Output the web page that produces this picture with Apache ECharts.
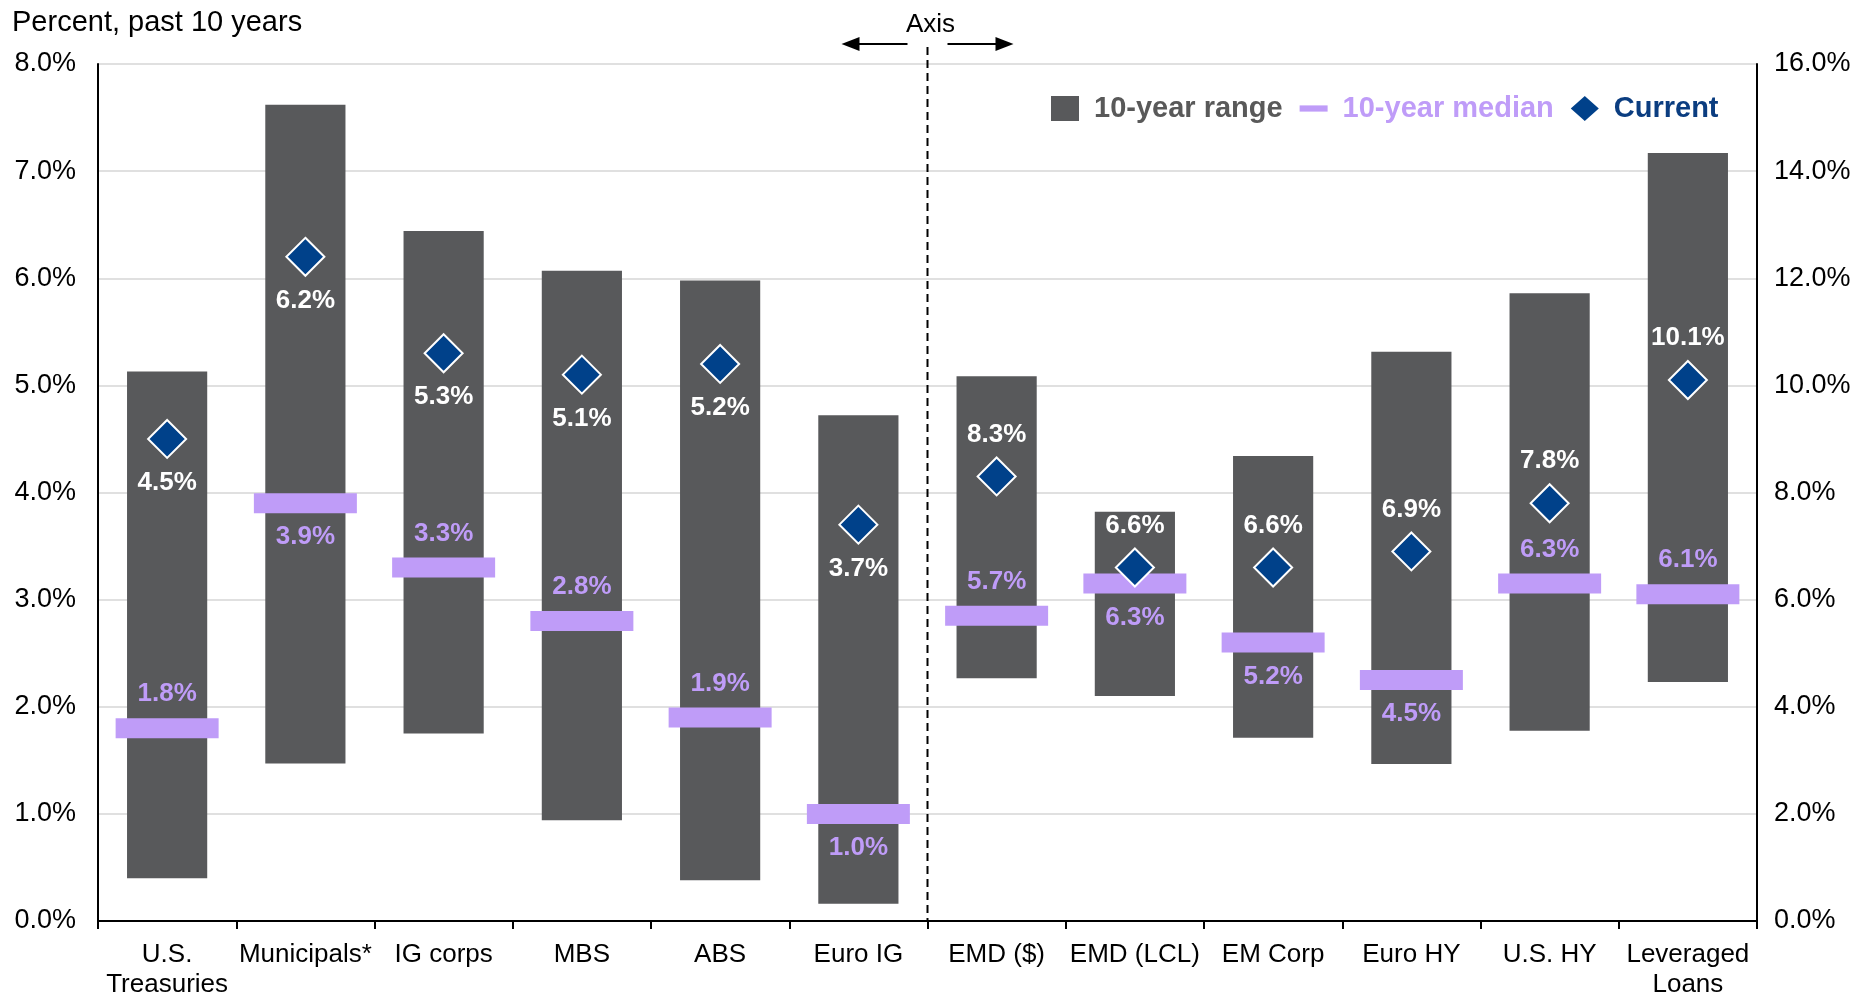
<!DOCTYPE html>
<html>
<head>
<meta charset="utf-8">
<script src="https://cdn.jsdelivr.net/npm/echarts@6/dist/echarts.min.js"></script>
<style>
  html, body { margin: 0; padding: 0; background: #fff; }
  #chart { width: 1858px; height: 994px; }
</style>
</head>
<body>
<div id="chart"></div>
<script>
// categories: first six read on the left axis, last six on the right axis
var categories = ['U.S.\nTreasuries', 'Municipals*', 'IG corps', 'MBS', 'ABS', 'Euro IG',
    'EMD ($)', 'EMD (LCL)', 'EM Corp', 'Euro HY', 'U.S. HY', 'Leveraged\nLoans'];
var rangeLow  = [0.40, 1.47, 1.75, 0.94, 0.38, 0.16, 4.53, 4.20, 3.42, 2.93, 3.55, 4.46];
var rangeHigh = [5.13, 7.62, 6.44, 6.07, 5.98, 4.72, 10.17, 7.64, 8.68, 10.63, 11.72, 14.34];
var median    = [1.8, 3.9, 3.3, 2.8, 1.9, 1.0, 5.7, 6.3, 5.2, 4.5, 6.3, 6.1];
var current   = [4.5, 6.2, 5.3, 5.1, 5.2, 3.7, 8.3, 6.6, 6.6, 6.9, 7.8, 10.1];
var splitAt = 6; // index of first right-axis category

// label placement (style only)
var medianLabelTop  = [true, false, true, true, true, false, true, false, false, false, true, true];
var currentLabelTop = [false, false, false, false, false, false, true, true, true, true, true, true];

var FONT = 'Liberation Sans';
var GREY = '#58595b';
var PURPLE = '#bf9cf8';
var NAVY = '#00418a';

function pick(side) {
    var idx = [];
    for (var i = 0; i < categories.length; i++) {
        if ((side === 0 && i < splitAt) || (side === 1 && i >= splitAt)) idx.push(i);
    }
    return idx;
}

function renderRange(params, api) {
    var top = api.coord([api.value(0), api.value(2)]);
    var bot = api.coord([api.value(0), api.value(1)]);
    var w = api.size([1, 0])[0] * 0.58;
    return {
        type: 'rect',
        shape: { x: top[0] - w / 2, y: top[1], width: w, height: bot[1] - top[1] },
        style: api.style()
    };
}

var series = [];
[0, 1].forEach(function (side) {
    var idx = pick(side);
    series.push({
        name: '10-year range',
        type: 'custom',
        yAxisIndex: side,
        renderItem: renderRange,
        encode: { x: 0, y: [1, 2] },
        itemStyle: { color: GREY },
        z: 1,
        data: idx.map(function (i) { return [i, rangeLow[i], rangeHigh[i]]; })
    });
    series.push({
        name: '10-year median',
        type: 'scatter',
        yAxisIndex: side,
        symbol: 'rect',
        symbolSize: [103, 20],
        itemStyle: { color: PURPLE, opacity: 1 },
        z: 3,
        data: idx.map(function (i) {
            return {
                value: [i, median[i]],
                label: { position: medianLabelTop[i] ? 'top' : 'bottom' }
            };
        }),
        label: {
            show: true,
            distance: 11,
            color: PURPLE,
            fontFamily: FONT,
            fontWeight: 'bold',
            fontSize: 26,
            formatter: function (p) { return p.value[1].toFixed(1) + '%'; }
        }
    });
    series.push({
        name: 'Current',
        type: 'scatter',
        yAxisIndex: side,
        symbol: 'diamond',
        symbolSize: [38, 38],
        itemStyle: { color: NAVY, borderColor: '#ffffff', borderWidth: 2, opacity: 1 },
        z: 4,
        data: idx.map(function (i) {
            return {
                value: [i, current[i]],
                label: { position: currentLabelTop[i] ? 'top' : 'bottom',
                         distance: currentLabelTop[i] ? 9 : 11 }
            };
        }),
        label: {
            show: true,
            color: '#ffffff',
            fontFamily: FONT,
            fontWeight: 'bold',
            fontSize: 26,
            formatter: function (p) { return p.value[1].toFixed(1) + '%'; }
        }
    });
});

var chart = echarts.init(document.getElementById('chart'));
chart.setOption({
    animation: false,
    backgroundColor: '#ffffff',
    textStyle: { fontFamily: FONT },
    title: {
        text: 'Percent, past 10 years',
        left: 7,
        top: 3,
        textStyle: { fontFamily: FONT, fontSize: 29, fontWeight: 'normal', color: '#000' }
    },
    legend: {
        left: 1046,
        top: 89,
        itemWidth: 28,
        itemHeight: 25,
        itemGap: 17,
        selectedMode: false,
        data: [
            { name: '10-year range', icon: 'rect',
              textStyle: { color: '#595959' } },
            { name: '10-year median', icon: 'path://M0,0H27V6H0Z',
              textStyle: { color: PURPLE } },
            { name: 'Current', icon: 'diamond',
              itemStyle: { borderWidth: 0 },
              textStyle: { color: '#0b3d80' } }
        ],
        textStyle: { fontFamily: FONT, fontSize: 29, fontWeight: 'bold', padding: [0, 0, 0, 10] }
    },
    grid: { left: 98, right: 101, top: 64, bottom: 73, containLabel: false, outerBoundsMode: 'none' },
    xAxis: {
        type: 'category',
        data: categories,
        boundaryGap: true,
        axisLine: { lineStyle: { color: '#000', width: 2 } },
        axisTick: { show: true, interval: 0, length: 8, lineStyle: { color: '#000', width: 2 } },
        axisLabel: { interval: 0, color: '#000', fontSize: 26, lineHeight: 30, margin: 19, fontFamily: FONT },
        splitLine: { show: false }
    },
    yAxis: [{
        type: 'value',
        min: 0, max: 8, interval: 1,
        axisLine: { show: true, lineStyle: { color: '#000', width: 2 } },
        axisTick: { show: false },
        axisLabel: { color: '#000', fontSize: 27, margin: 22, fontFamily: FONT,
            formatter: function (v) { return v.toFixed(1) + '%'; } },
        splitLine: { show: true, lineStyle: { color: '#e0e0e0', width: 2 } }
    }, {
        type: 'value',
        min: 0, max: 16, interval: 2,
        position: 'right',
        axisLine: { show: true, lineStyle: { color: '#000', width: 2 } },
        axisTick: { show: false },
        axisLabel: { color: '#000', fontSize: 27, margin: 17, fontFamily: FONT,
            formatter: function (v) { return v.toFixed(1) + '%'; } },
        splitLine: { show: false }
    }],
    series: series
});

// dashed divider between the two axis groups, with the "Axis" note above it
var bx = (chart.convertToPixel({ xAxisIndex: 0 }, splitAt - 1) +
          chart.convertToPixel({ xAxisIndex: 0 }, splitAt)) / 2;
var by = chart.convertToPixel({ yAxisIndex: 0 }, 0);
chart.setOption({
    graphic: [
        { type: 'line', shape: { x1: bx, y1: 47, x2: bx, y2: by },
          style: { stroke: '#000', lineWidth: 2, lineDash: [8, 5] }, z: 10 },
        { type: 'text', x: bx + 3, y: 25,
          style: { text: 'Axis', fontFamily: FONT, fontSize: 26, fill: '#000',
                   align: 'center', verticalAlign: 'middle' } },
        { type: 'line', shape: { x1: bx - 20, y1: 44, x2: bx - 70, y2: 44 },
          style: { stroke: '#000', lineWidth: 2 } },
        { type: 'polygon', shape: { points: [[bx - 86, 44], [bx - 68, 37], [bx - 68, 51]] },
          style: { fill: '#000' } },
        { type: 'line', shape: { x1: bx + 20, y1: 44, x2: bx + 70, y2: 44 },
          style: { stroke: '#000', lineWidth: 2 } },
        { type: 'polygon', shape: { points: [[bx + 86, 44], [bx + 68, 37], [bx + 68, 51]] },
          style: { fill: '#000' } }
    ]
});
</script>
</body>
</html>
